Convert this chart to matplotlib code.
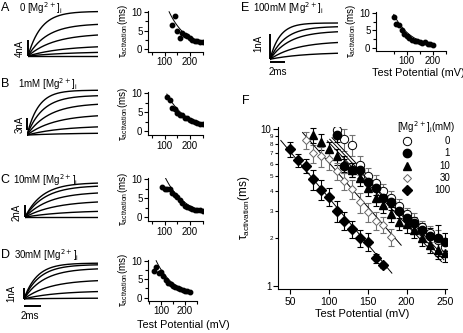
import numpy as np
import matplotlib
matplotlib.use('Agg')
import matplotlib.pyplot as plt

W, H = 464, 333
plt.rcParams['font.family'] = ['Liberation Sans', 'DejaVu Sans']

# ---- current traces: level at end of pulse (nA) and time constant (ms) of each sweep
trace_amp_A = [11.1, 7.9, 5.25, 2.3, 0.9, 0.0]
trace_tau_A = [1.5, 2.2, 3.0, 4.0, 5.0, 6.0]
trace_amp_B = [11.5, 10.1, 7.9, 4.95, 2.1, 0.45]
trace_tau_B = [1.3, 1.8, 2.5, 3.2, 4.0, 5.0]
trace_amp_C = [5.5, 5.0, 3.9, 2.45, 0.93, 0.0]
trace_tau_C = [2.0, 2.3, 2.8, 3.5, 4.5, 5.5]
trace_amp_D = [3.33, 3.18, 2.8, 1.7, 0.68, 0.06]
trace_tau_D = [1.5, 1.8, 2.3, 3.0, 3.8, 5.0]
trace_amp_E = [1.45, 1.3, 1.1, 0.67, 0.24]
trace_tau_E = [1.3, 2.0, 2.6, 3.5, 4.5]

# ---- tau activation vs test potential, single cells
v_A = [130, 140, 150, 160, 170, 180, 190, 200, 210, 220, 230, 240, 250]
tau_A = [6.6, 8.8, 5.0, 2.9, 4.4, 3.9, 3.5, 3.0, 2.5, 2.3, 2.1, 2.0, 1.85]
v_B = [110, 120, 130, 140, 150, 160, 170, 180, 190, 200, 210, 220, 230, 240, 250]
tau_B = [9.1, 8.2, 6.0, 5.8, 4.7, 4.4, 4.2, 3.4, 3.4, 3.0, 2.7, 2.5, 2.2, 2.0, 1.8]
v_C = [90, 100, 110, 120, 130, 140, 150, 160, 170, 180, 190, 200, 210, 220, 230, 240, 250]
tau_C = [7.8, 7.5, 7.4, 7.5, 6.4, 5.8, 5.2, 4.5, 3.8, 3.0, 2.7, 2.5, 2.3, 2.0, 1.9, 1.8, 1.7]
v_D = [70, 80, 90, 100, 110, 120, 130, 140, 150, 160, 170, 180, 190, 200, 210, 220]
tau_D = [7.2, 8.3, 6.8, 6.9, 5.9, 4.8, 4.0, 3.6, 3.3, 2.8, 2.6, 2.3, 2.1, 1.9, 1.7, 1.5]
v_E = [50, 60, 70, 80, 90, 100, 110, 120, 130, 140, 150, 160, 170, 180, 190, 200]
tau_E = [8.8, 6.7, 6.6, 5.0, 4.0, 3.4, 2.8, 2.4, 2.1, 2.0, 1.7, 1.6, 1.7, 1.3, 1.1, 1.0]

# single exponential fits: (V start, tau start, V end, tau end)
fit_A = (117, 10.0, 240, 1.76)
fit_B = (108, 9.8, 250, 1.7)
fit_C = (103, 10.2, 250, 1.6)
fit_D = (80, 10.0, 220, 1.5)
fit_E = (50, 9.5, 200, 1.0)

# ---- pooled data (mean +/- sem)
v_0 = [110, 120, 130, 140, 150, 160, 170, 180, 190, 200, 210, 220, 230, 240, 250]
tau_0 = [9.8, 8.6, 7.9, 5.9, 5.0, 4.55, 4.0, 3.6, 3.2, 2.85, 2.6, 2.35, 2.15, 1.95, 1.75]
err_0 = [1.1, 1.4, 1.2, 0.8, 0.6, 0.5, 0.45, 0.4, 0.35, 0.3, 0.3, 0.25, 0.25, 0.3, 0.2]
v_1 = [110, 120, 130, 140, 150, 160, 170, 180, 190, 200, 210, 220, 230, 240, 250]
tau_1 = [9.2, 5.8, 5.5, 5.45, 4.6, 4.2, 3.6, 3.4, 3.0, 2.7, 2.5, 2.25, 2.07, 2.0, 1.9]
err_1 = [1.0, 0.6, 0.6, 0.6, 0.5, 0.4, 0.4, 0.35, 0.3, 0.3, 0.25, 0.25, 0.25, 0.45, 0.25]
v_10 = [80, 90, 100, 110, 120, 130, 140, 150, 160, 170, 180, 190, 200, 210, 220, 230, 240, 250]
tau_10 = [9.1, 8.3, 7.4, 6.7, 6.0, 5.5, 4.85, 4.2, 3.6, 3.27, 2.86, 2.56, 2.47, 2.26, 2.0, 1.81, 1.68, 1.62]
err_10 = [1.0, 1.0, 0.9, 0.8, 0.7, 0.6, 0.5, 0.45, 0.4, 0.35, 0.3, 0.3, 0.3, 0.25, 0.2, 0.2, 0.2, 0.2]
v_30 = [70, 80, 90, 100, 110, 120, 130, 140, 150, 160, 170, 180]
tau_30 = [8.5, 7.0, 6.7, 6.4, 5.4, 4.65, 4.15, 3.4, 2.95, 2.6, 2.45, 2.05]
err_30 = [1.0, 0.9, 1.0, 0.9, 0.7, 0.6, 0.6, 0.5, 0.4, 0.35, 0.3, 0.25]
v_100 = [50, 60, 70, 80, 90, 100, 110, 120, 130, 140, 150, 160, 170]
tau_100 = [7.4, 6.3, 5.8, 4.8, 4.1, 3.7, 3.0, 2.6, 2.3, 2.0, 1.9, 1.5, 1.35]
err_100 = [0.8, 0.6, 0.6, 0.7, 0.6, 0.5, 0.45, 0.35, 0.3, 0.25, 0.25, 0.1, 0.05]

fit_0 = (104, 8.8, 250, 1.5)
fit_1 = (101, 8.6, 248, 1.46)
fit_10 = (98, 8.4, 245, 1.42)
fit_30 = (66, 9.5, 193, 1.81)
fit_100 = (38, 8.45, 181, 1.2)

conc_labels = ['0', '1', '10', '30', '100']

fig = plt.figure(figsize=(W / 100, H / 100), dpi=100)


def px_axes(x0, y0, x1, y1):
    return fig.add_axes([x0 / W, 1 - y1 / H, (x1 - x0) / W, (y1 - y0) / H])


def exp_fit(ax, fit, **kw):
    va, ta, vb, tb = fit
    k = (vb - va) / np.log(ta / tb)
    vv = np.linspace(va, vb, 100)
    ax.plot(vv, ta * np.exp(-(vv - va) / k), **kw)


def traces(box, amps, taus, tmax, ylim, bar_nA, bar_lo, bar_label, label_xy, ms_bar=None):
    ax = px_axes(*box)
    t = np.linspace(0, tmax, 200)
    for a, tau in zip(amps, taus):
        # scaled so the sweep ends at its measured level
        ax.plot(t, a * (1 - np.exp(-t / tau)) / (1 - np.exp(-tmax / tau)), color='black', lw=1.0)
    ax.set_xlim(0, tmax)
    ax.set_ylim(*ylim)
    ax.plot([-0.05, -0.05], [bar_lo, bar_lo + bar_nA], color='black', lw=1.4,
            clip_on=False, solid_capstyle='butt')
    if ms_bar is not None:
        ax.plot([-0.05, 1.95], [ms_bar, ms_bar], color='black', lw=1.4,
                clip_on=False, solid_capstyle='butt')
    ax.axis('off')
    fig.text(label_xy[0] / W, 1 - label_xy[1] / H, bar_label, rotation=90,
             ha='center', va='center', fontsize=7)
    return ax


def tau_panel(box, xlim, ylim, v, tau, fit):
    ax = px_axes(*box)
    exp_fit(ax, fit, color='black', lw=0.7)
    ax.plot(v, tau, 'o', color='black', ms=3.2, mec='black')
    ax.set_xlim(*xlim)
    ax.set_ylim(*ylim)
    ax.set_yticks([0, 5, 10])
    ax.set_yticks([2.5, 7.5], minor=True)
    ax.set_xticks([100, 200])
    ax.set_xticks([50, 150, 250], minor=True)
    for s in ['top', 'right']:
        ax.spines[s].set_visible(False)
    for s in ['left', 'bottom']:
        ax.spines[s].set_linewidth(0.8)
    ax.tick_params(labelsize=7, length=3, width=0.8, pad=1)
    ax.tick_params(which='minor', length=2, width=0.8)
    ax.set_ylabel(r'$\mathregular{\tau_{activation}}$(ms)', fontsize=7, labelpad=1)
    return ax


# ---- panel letters and titles
for letter, xy in [('A', (5, 8)), ('B', (5, 84)), ('C', (5, 180)), ('D', (5, 255)), ('E', (245, 8)), ('F', (246, 101))]:
    fig.text(xy[0] / W, 1 - xy[1] / H, letter, fontsize=9, ha='center', va='center')
for txt, xy in [('0 [Mg$^{2+}$]$_\\mathregular{i}$', (19, 8)), ('1mM [Mg$^{2+}$]$_\\mathregular{i}$', (18, 84)),
                ('10mM [Mg$^{2+}$]$_\\mathregular{i}$', (13, 180)), ('30mM [Mg$^{2+}$]$_\\mathregular{i}$', (14, 255)),
                ('100mM [Mg$^{2+}$]$_\\mathregular{i}$', (253, 8))]:
    fig.text(xy[0] / W, 1 - xy[1] / H, txt, fontsize=7, ha='left', va='center')

# ---- traces
traces((28, 8, 98, 58), trace_amp_A, trace_tau_A, 8.0, (-0.5, 12.0), 4, 0, '4nA', (20, 48))
traces((27, 86, 98, 137), trace_amp_B, trace_tau_B, 8.1, (-0.5, 12.6), 3, 1.4, '3nA', (20, 124))
traces((25, 180, 98, 219), trace_amp_C, trace_tau_C, 8.4, (-0.3, 6.0), 2, 0, '2nA', (17, 212))
traces((24, 260, 98, 301), trace_amp_D, trace_tau_D, 8.5, (-0.2, 3.63), 1, 0, '1nA', (11, 293), ms_bar=-0.65)
traces((270, 20, 338, 61), trace_amp_E, trace_tau_E, 9.0, (-0.07, 1.57), 1, 0, '1nA', (258, 43), ms_bar=-0.09)
fig.text(30 / W, 1 - 316 / H, '2ms', fontsize=7, ha='center', va='center')
fig.text(278 / W, 1 - 72 / H, '2ms', fontsize=7, ha='center', va='center')

# ---- single cell tau plots
tau_panel((148, 10.6, 202.5, 51.6), (33, 250), (-0.6, 10.3), v_A, tau_A, fit_A)
tau_panel((148, 92.2, 202.5, 135), (33, 250), (-1.0, 10.3), v_B, tau_B, fit_B)
tau_panel((148, 177.8, 202.5, 221), (33, 250), (-0.95, 10.3), v_C, tau_C, fit_C)
tau_panel((148, 259.6, 197, 300.7), (46, 218), (-0.8, 10.3), v_D, tau_D, fit_D)
fig.text(183 / W, 1 - 325 / H, 'Test Potential (mV)', fontsize=7.8, ha='center', va='center')
tau_panel((376, 11.6, 446, 50.7), (-18, 230), (-0.67, 10.3), v_E, tau_E, fit_E)
fig.text(418 / W, 1 - 73 / H, 'Test Potential (mV)', fontsize=7.8, ha='center', va='center')

# ---- pooled panel F
axF = px_axes(277.7, 127, 447, 289)
series = [
    (v_0, tau_0, err_0, fit_0, dict(marker='o', ms=6.0, mfc='white', mec='black', mew=0.7), '0.45'),
    (v_1, tau_1, err_1, fit_1, dict(marker='o', ms=6.0, mfc='black', mec='black'), 'black'),
    (v_10, tau_10, err_10, fit_10, dict(marker='^', ms=6.0, mfc='black', mec='black'), 'black'),
    (v_30, tau_30, err_30, fit_30, dict(marker='D', ms=4.0, mfc='white', mec='0.4', mew=0.7), '0.45'),
    (v_100, tau_100, err_100, fit_100, dict(marker='D', ms=5.0, mfc='black', mec='black'), 'black'),
]
for v, tau, err, fit, mk, ecol in series:
    axF.errorbar(v, tau, yerr=err, fmt='none', ecolor=ecol, elinewidth=0.8, capsize=2.2, capthick=0.8)
for v, tau, err, fit, mk, ecol in series:
    exp_fit(axF, fit, color='black', lw=0.7)
    axF.plot(v, tau, linestyle='none', **mk)
axF.set_yscale('log')
axF.set_xlim(34, 252)
axF.set_ylim(0.95, 10.3)
axF.set_xticks([50, 100, 150, 200, 250])
axF.set_yticks([1, 10])
axF.set_yticklabels(['1', '10'])
minor_vals = [2, 3, 4, 5, 6, 7, 8, 9]
axF.set_yticks(minor_vals, minor=True)
axF.set_yticklabels([str(m) for m in minor_vals], minor=True)
for s in ['top', 'right']:
    axF.spines[s].set_visible(False)
axF.tick_params(axis='x', labelsize=7.5, length=3.5, width=0.8, pad=2)
axF.tick_params(axis='y', which='major', labelsize=7, length=3.5, width=0.8, pad=1)
axF.tick_params(axis='y', which='minor', labelsize=4.5, length=2, width=0.8, pad=1)
axF.set_xlabel('Test Potential (mV)', fontsize=8, labelpad=2)
axF.set_ylabel(r'$\mathregular{\tau_{activation}}$(ms)', fontsize=8.5, labelpad=6)

# legend for panel F
fig.text(397 / W, 1 - 127 / H, '[Mg$^{2+}$]$_\\mathregular{i}$(mM)', fontsize=7, ha='left', va='center')
leg_ax = px_axes(397, 134, 455, 196)
leg_ax.set_xlim(0, 58)
leg_ax.set_ylim(62, 0)
leg_ax.axis('off')
for i, (lab, s) in enumerate(zip(conc_labels, series)):
    y = 7 + i * 12.3
    leg_ax.plot([10], [y], linestyle='none', **s[4])
    leg_ax.text(53, y, lab, fontsize=7, ha='right', va='center')

fig.savefig('out.png', dpi=100)
